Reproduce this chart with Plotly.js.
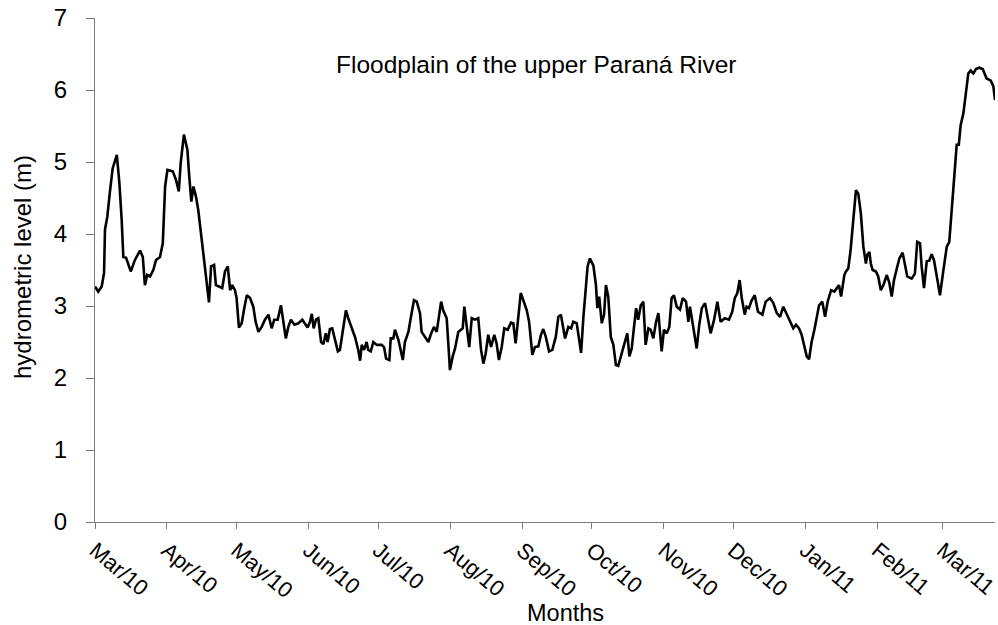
<!DOCTYPE html>
<html>
<head>
<meta charset="utf-8">
<script src="https://cdn.plot.ly/plotly-3.0.1.min.js"></script>
<style>html,body{margin:0;padding:0;background:#fff;}#chart{width:998px;height:625px;}</style>
</head>
<body>
<div id="chart"></div>
<script>
// days since 2010-03-01
const days = [0,1.4,2.9,3.9,4.3,5.3,6.5,7.6,9.4,10.5,11.5,12.2,13.4,15.4,17.2,19.4,20.6,21.5,22.5,23.7,25.1,26.3,28.0,29.2,30.2,31.2,33.5,34.9,36.1,36.9,38.3,39.8,40.6,41.5,42.4,43.5,44.5,46.0,47.4,48.4,49.1,50.0,51.3,52.1,53.9,54.8,56.0,57.2,58.2,59.1,60.3,61.0,62.0,63.2,64.3,65.4,66.8,68.2,69.2,70.4,71.8,73.2,74.7,76.1,77.2,78.7,80.1,81.1,82.2,83.3,84.4,85.9,87.6,89.3,90.5,91.6,92.6,93.4,94.2,95.2,96.2,97.4,98.4,99.4,100.2,101.2,102.2,103.4,104.6,105.5,106.7,108.1,109.1,110.6,112.0,113.4,114.2,114.9,115.9,117.0,117.7,118.8,119.9,121.4,123.5,124.5,125.4,126.8,127.4,128.5,129.2,130.7,131.7,132.6,133.5,135.0,136.0,137.4,138.6,140.0,140.7,142.2,143.6,144.6,146.0,147.2,148.2,149.1,150.0,151.5,152.2,152.9,154.1,155.1,156.5,157.5,158.4,159.1,160.1,161.2,162.3,163.7,165.1,166.3,167.3,168.3,169.4,170.6,172.0,173.0,174.0,175.2,176.3,177.8,179.2,180.2,181.2,182.4,183.4,184.5,186.0,187.0,188.4,189.5,191.0,192.1,193.1,194.2,195.6,197.0,198.5,199.6,200.7,202.5,203.9,205.1,206.0,207.5,208.5,209.4,210.4,211.4,212.2,213.2,214.7,215.8,216.4,217.2,218.3,219.3,220.1,221.1,222.2,223.3,224.4,225.4,226.9,228.3,229.3,230.2,231.2,232.2,233.1,234.0,235.1,236.2,237.2,238.4,239.4,240.5,241.7,242.7,243.4,244.1,245.1,246.3,247.4,248.4,249.4,250.6,252.0,253.2,254.6,255.6,256.3,257.5,258.5,259.2,260.3,261.4,262.8,263.8,265.2,266.7,268.1,269.5,271.3,273.1,274.5,275.6,276.7,277.7,278.6,279.9,280.7,281.7,282.9,284.2,285.6,287.5,288.9,290.8,292.2,293.7,295.1,296.5,298.0,299.4,300.8,302.0,303.3,304.4,305.6,306.6,307.6,308.7,309.9,310.9,311.9,313.3,314.5,315.6,317.1,318.5,319.5,320.5,321.4,322.8,323.5,324.5,325.5,326.7,327.8,328.8,329.9,331.0,332.1,332.7,333.6,334.2,335.0,336.4,337.4,338.5,339.6,341.1,342.2,343.2,344.2,345.4,346.5,347.9,348.9,349.9,351.8,353.2,354.2,355.4,356.1,357.1,358.3,359.4,360.4,361.4,362.9,364.0,365.4,366.9,368.0,369.1,370.0,371.2,372.1,372.9,374.1,375.2,376.2,377.2,378.4,379.5,380.9,382.4,384.1,385.9,387.0,387.7];
const level = [3.27,3.20,3.27,3.46,4.06,4.24,4.61,4.91,5.10,4.71,4.19,3.68,3.67,3.48,3.64,3.77,3.68,3.29,3.43,3.41,3.50,3.64,3.68,3.87,4.66,4.89,4.87,4.75,4.59,4.98,5.38,5.17,4.80,4.45,4.66,4.52,4.33,3.92,3.55,3.32,3.05,3.55,3.57,3.29,3.27,3.25,3.48,3.55,3.22,3.29,3.22,3.11,2.70,2.76,2.97,3.15,3.11,2.99,2.78,2.64,2.71,2.81,2.88,2.69,2.81,2.81,3.01,2.78,2.55,2.71,2.81,2.74,2.76,2.81,2.76,2.70,2.78,2.89,2.69,2.81,2.83,2.50,2.47,2.62,2.50,2.68,2.69,2.53,2.37,2.39,2.64,2.94,2.83,2.69,2.57,2.39,2.24,2.46,2.39,2.50,2.39,2.37,2.50,2.46,2.46,2.43,2.27,2.25,2.55,2.55,2.67,2.53,2.37,2.25,2.50,2.64,2.83,3.08,3.06,2.90,2.64,2.57,2.50,2.60,2.71,2.64,2.85,3.06,2.94,2.83,2.48,2.11,2.30,2.41,2.64,2.67,2.69,2.99,2.75,2.43,2.83,2.81,2.83,2.39,2.20,2.34,2.60,2.43,2.60,2.48,2.25,2.43,2.69,2.67,2.77,2.76,2.48,2.85,3.18,3.08,2.94,2.78,2.32,2.43,2.44,2.60,2.68,2.57,2.37,2.39,2.57,2.85,2.88,2.55,2.71,2.69,2.78,2.76,2.53,2.35,2.85,3.27,3.55,3.66,3.56,3.29,2.97,3.13,2.76,2.88,3.29,3.13,2.57,2.46,2.18,2.17,2.34,2.48,2.62,2.30,2.41,2.71,2.97,2.81,3.01,3.06,2.46,2.69,2.67,2.55,2.78,2.90,2.62,2.37,2.67,2.62,2.71,3.11,3.15,2.99,2.95,3.11,3.06,2.78,2.99,2.74,2.53,2.41,2.74,2.97,3.04,2.88,2.62,2.81,3.06,2.78,2.83,2.81,2.92,3.11,3.18,3.36,3.11,2.88,2.99,2.97,3.08,3.15,2.92,2.88,3.06,3.11,3.04,2.90,2.85,2.99,2.88,2.78,2.69,2.74,2.69,2.60,2.43,2.30,2.26,2.50,2.67,2.83,3.01,3.06,2.85,3.06,3.22,3.20,3.25,3.29,3.13,3.43,3.48,3.52,3.78,4.24,4.61,4.56,4.29,3.82,3.59,3.71,3.75,3.59,3.50,3.48,3.41,3.22,3.29,3.43,3.32,3.13,3.36,3.52,3.66,3.74,3.55,3.41,3.38,3.45,3.89,3.87,3.55,3.25,3.62,3.63,3.72,3.64,3.36,3.15,3.48,3.82,3.89,4.38,4.75,5.24,5.24,5.51,5.68,5.95,6.23,6.27,6.23,6.29,6.31,6.29,6.16,6.13,6.05,5.86];
const monthStarts = ['2010-03-01','2010-04-01','2010-05-01','2010-06-01','2010-07-01','2010-08-01','2010-09-01','2010-10-01','2010-11-01','2010-12-01','2011-01-01','2011-02-01','2011-03-01'];
const monthLabels = ['Mar/10','Apr/10','May/10','Jun/10','Jul/10','Aug/10','Sep/10','Oct/10','Nov/10','Dec/10','Jan/11','Feb/11','Mar/11'];
const yTicks = [0,1,2,3,4,5,6,7];
const titleText = 'Floodplain of the upper Paraná River';

const t0 = Date.UTC(2010, 2, 1);
const xDates = days.map(d => t0 + d * 86400000);
const xEnd = t0 + days[days.length - 1] * 86400000;

const font = 'Liberation Sans, Arial, sans-serif';
const trace = {
  x: xDates, y: level, type: 'scatter', mode: 'lines',
  line: {color: '#000000', width: 2.6}, hoverinfo: 'skip'
};
const layout = {
  width: 998, height: 625,
  margin: {l: 95, r: 3, t: 18, b: 103},
  paper_bgcolor: '#ffffff', plot_bgcolor: '#ffffff',
  showlegend: false,
  font: {family: font, size: 23, color: '#000'},
  xaxis: {
    type: 'date', range: [t0, xEnd],
    tickvals: monthStarts, ticktext: monthLabels, tickangle: 40,
    ticklabeloverflow: 'allow',
    ticks: 'outside', ticklen: 6, tickcolor: '#7a7a7a', tickwidth: 1,
    showline: true, linecolor: '#7a7a7a', linewidth: 1,
    showgrid: false, zeroline: false,
    tickfont: {family: font, size: 22, color: '#000'}
  },
  yaxis: {
    range: [0, 7], tickvals: yTicks,
    ticks: 'outside', ticklen: 8, tickcolor: '#7a7a7a', tickwidth: 1,
    showline: true, linecolor: '#7a7a7a', linewidth: 1,
    showgrid: false, zeroline: false, ticklabelstandoff: 14,
    tickfont: {family: font, size: 24, color: '#000'}
  },
  annotations: [
    {text: titleText, xref: 'paper', yref: 'paper', x: 0.490, y: 0.907, showarrow: false,
     font: {family: font, size: 24.5, color: '#000'}, xanchor: 'center', yanchor: 'middle'},
    {text: 'Months', xref: 'paper', yref: 'paper', x: 0.523, y: -0.181, showarrow: false,
     font: {family: font, size: 23.5, color: '#000'}, xanchor: 'center', yanchor: 'middle'},
    {text: 'hydrometric level (m)', xref: 'paper', yref: 'paper', x: -0.080, y: 0.506, showarrow: false,
     textangle: -90, font: {family: font, size: 24, color: '#000'}, xanchor: 'center', yanchor: 'middle'}
  ]
};
Plotly.newPlot('chart', [trace], layout, {displayModeBar: false, staticPlot: true});
</script>
</body>
</html>
